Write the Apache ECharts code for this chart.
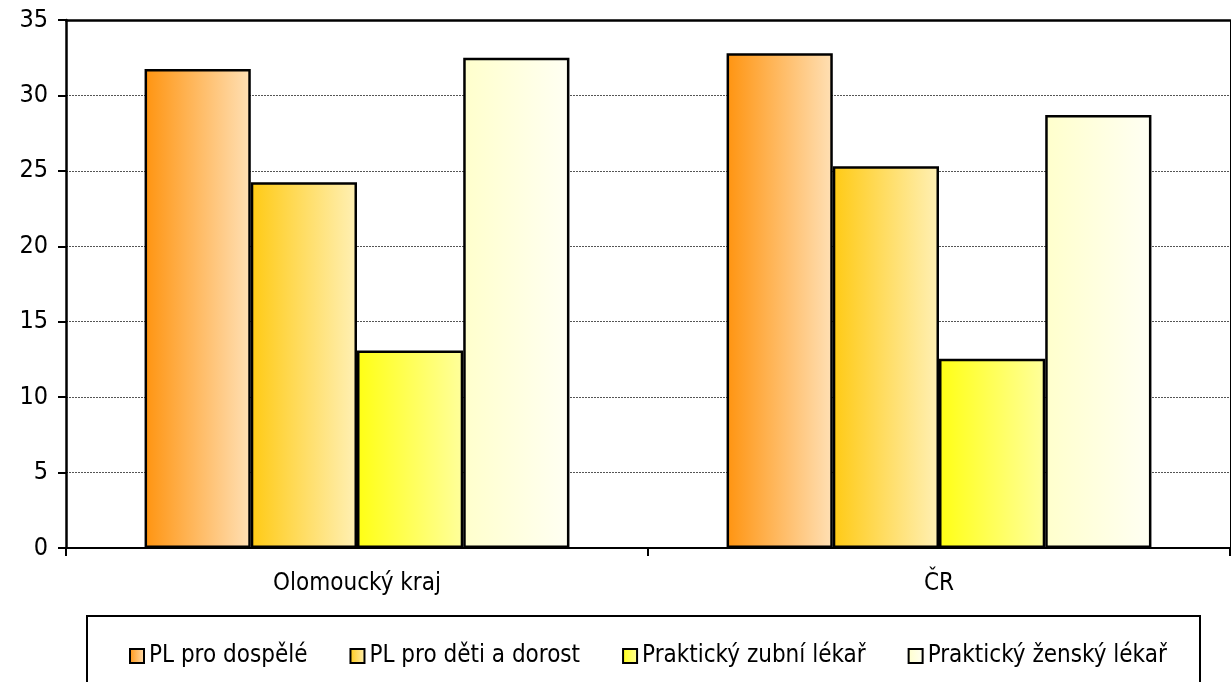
<!DOCTYPE html>
<html><head><meta charset="utf-8">
<script src="https://cdn.jsdelivr.net/npm/echarts@6/dist/echarts.min.js"></script>
<style>html,body{margin:0;padding:0;background:#fff}#c{width:1231px;height:682px}</style>
</head><body><div id="c"></div>
<script>
const categories = ['Olomoucký kraj', 'ČR'];
const seriesNames = ['PL pro dospělé', 'PL pro děti a dorost', 'Praktický zubní lékař', 'Praktický ženský lékař'];
const dospele = [31.75, 32.8];
const detiDorost = [24.25, 25.3];
const zubni = [13.1, 12.55];
const zensky = [32.5, 28.7];
const yTicks = [0, 5, 10, 15, 20, 25, 30, 35];

const FONT = "'Liberation Sans Narrow','DejaVu Sans Condensed','Liberation Sans',sans-serif";
const grads = [['#FF9410', '#FFE0B5'], ['#FFCA14', '#FFF0B5'], ['#FFFF14', '#FFFF9C'], ['#FFFFCC', '#FFFFF3']];
function grad(c) {
  return new echarts.graphic.LinearGradient(0, 0, 1, 0, [{offset: 0, color: c[0]}, {offset: 1, color: c[1]}]);
}
const values = [dospele, detiDorost, zubni, zensky];
const chart = echarts.init(document.getElementById('c'), null, {renderer: 'canvas'});
chart.setOption({
  animation: false,
  backgroundColor: '#fff',
  textStyle: {fontFamily: FONT},
  grid: {left: 66, top: 20, right: 1, bottom: 134, containLabel: false},
  legend: {
    left: 124, top: 639, itemWidth: 14, itemHeight: 14, itemGap: 42, icon: 'rect',
    textStyle: {fontFamily: FONT, fontSize: 24, color: '#000'},
    itemStyle: {borderColor: '#000', borderWidth: 2},
    data: seriesNames
  },
  graphic: [{
    type: 'rect', left: 86, top: 615, z: -1,
    shape: {width: 1113, height: 90},
    style: {fill: '#fff', stroke: '#000', lineWidth: 2}
  }],
  xAxis: [{
    type: 'category', data: categories, position: 'bottom', z: 10,
    axisLine: {onZero: false, lineStyle: {color: '#000', width: 2}},
    axisTick: {show: true, length: 8, lineStyle: {color: '#000', width: 2}},
    axisLabel: {fontFamily: FONT, fontSize: 24, color: '#000', margin: 24}
  }, {
    type: 'category', data: categories, position: 'top', z: 10,
    axisLine: {show: true, onZero: false, lineStyle: {color: '#000', width: 2.5}},
    axisTick: {show: false}, axisLabel: {show: false}
  }],
  yAxis: [{
    type: 'value', min: 0, max: 35, interval: 5, position: 'left', z: 2,
    axisLine: {show: true, onZero: false, lineStyle: {color: '#000', width: 2.5}},
    axisTick: {show: true, length: 8, lineStyle: {color: '#000', width: 2}},
    axisLabel: {fontFamily: FONT, fontSize: 25, color: '#000', margin: 18,
      formatter: v => yTicks.includes(v) ? String(v) : ''},
    splitLine: {show: true, lineStyle: {color: '#555', width: 1, type: [2, 1]}}
  }, {
    type: 'value', min: 0, max: 35, interval: 5, position: 'right', z: 10,
    axisLine: {show: true, onZero: false, lineStyle: {color: '#000', width: 1}},
    axisTick: {show: false}, axisLabel: {show: false}, splitLine: {show: false}
  }],
  series: seriesNames.map((n, i) => ({
    name: n, type: 'bar', data: values[i], barGap: '0%', barCategoryGap: '27%',
    itemStyle: {color: grad(grads[i]), borderColor: '#000', borderWidth: 2.5},
    emphasis: {disabled: true}
  }))
});
</script></body></html>
